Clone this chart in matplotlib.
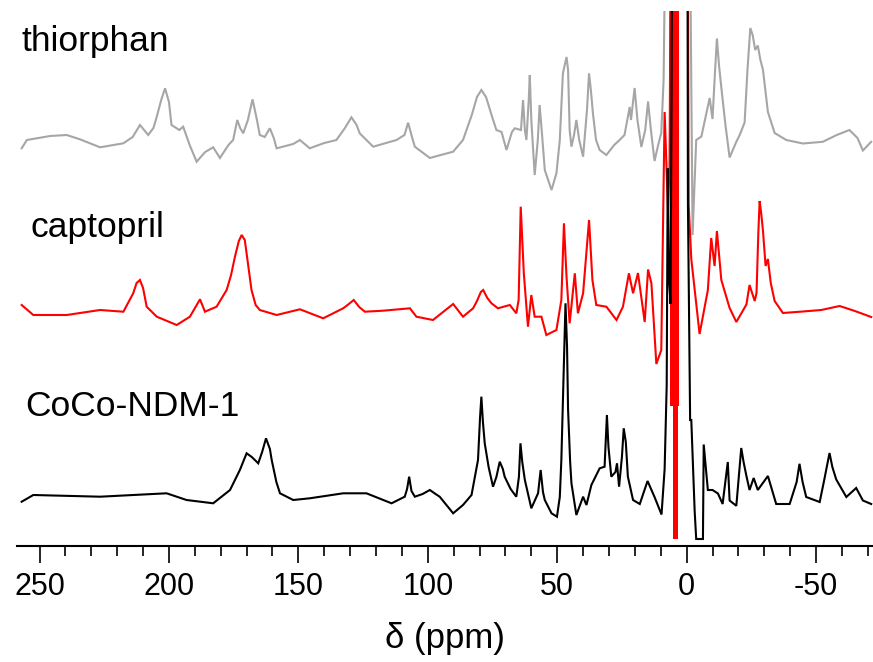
import numpy as np
import matplotlib
matplotlib.use("Agg")
import matplotlib.pyplot as plt

plt.rcParams['font.family'] = ['Liberation Sans', 'DejaVu Sans']

# chemical shift (ppm) and intensity relative to each trace's own baseline
thiorphan_ppm = [256.9, 254.9, 245.9, 239.5, 234.4, 226.6, 217.6, 214.0, 211.2, 208.0,
                 206.0, 204.7, 203.0, 201.5, 200.0, 199.0, 196.0, 194.5, 192.0, 189.3,
                 186.0, 182.9, 180.3, 177.0, 175.2, 173.6, 172.5, 171.3, 169.5, 167.7,
                 166.0, 164.9, 163.0, 161.0, 159.5, 158.4, 152.0, 149.4, 145.6, 140.0,
                 135.3, 132.0, 129.5, 127.5, 126.3, 121.1, 112.1, 109.0, 107.6, 106.0,
                 105.0, 99.2, 95.0, 90.2, 88.0, 86.4, 83.0, 81.0, 79.3, 77.5,
                 75.0, 73.5, 71.5, 69.6, 67.5, 66.4, 64.0, 63.2, 62.5, 61.9,
                 61.0, 60.6, 60.0, 58.7, 57.5, 56.8, 56.0, 54.8, 52.2, 50.3,
                 49.0, 48.0, 47.8, 46.4, 45.8, 45.2, 44.5, 43.5, 42.6, 41.5,
                 40.0, 38.5, 37.7, 37.0, 36.2, 35.0, 33.6, 31.0, 28.0, 25.9,
                 24.0, 22.0, 21.5, 20.1, 19.0, 17.5, 16.0, 14.9, 13.8, 12.4,
                 11.0, 9.8, 8.9, 7.8, -1.0, -2.3, -3.7, -5.7, -8.9, -10.0,
                 -11.0, -11.7, -12.5, -13.4, -15.0, -16.6, -19.2, -20.5, -22.4, -23.5,
                 -24.6, -25.5, -26.5, -27.5, -28.5, -29.5, -31.4, -34.0, -38.5, -44.9,
                 -52.6, -58.0, -62.9, -66.0, -68.1, -71.3]
thiorphan_int = [-8.3, 0, 4, 5, 0.7, -7.3, -3.3, 3, 15, 5,
                 12, 23.3, 40, 51.7, 38, 15, 10, 13.3, -5, -21.7,
                 -12, -7.3, -18, -5, 0, 20, 12, 6.7, 20, 40.7,
                 20, 5, 3, 11.7, 2, -8.3, -4, 0, -8.3, -3,
                 0, 12, 22.7, 15, 6.7, -6.7, 0, 5, 17.3, 2,
                 -6.7, -18, -15, -11.7, -5, 0, 25, 43, 50, 43,
                 22, 10, 8, -10, 8, 11.7, 10, 40, 10, 0,
                 40, 65, 20, -35, 0, 35, 10, -30, -50, -33.3,
                 0, 55, 66.7, 83, 70, 10, -6.7, 5, 20, 0,
                 -16.7, 30, 66.7, 50, 26.7, 0, -10, -15, -5, 0,
                 5, 33, 20, 52, 20, -7, 10, 38.5, 10, -21,
                 -5, 7, 60, 300, 300, -95, 0, 3.5, 42, 21,
                 70, 101.5, 75, 52.5, 15, -17.5, -1.8, 5, 17.5, 70,
                 112, 105, 90, 94.5, 80, 70, 28, 7, 0, -3.5,
                 -1.8, 5, 10, 2, -10.5, -1.8]

captopril_ppm = [256.9, 252.4, 239.5, 226.6, 217.6, 213.8, 212.5, 211.2, 210.0, 208.6,
                 204.7, 197.0, 191.9, 188.0, 186.1, 181.6, 177.7, 176.0, 174.5, 173.0,
                 171.9, 170.7, 169.5, 168.1, 166.5, 164.9, 158.4, 149.4, 140.4, 132.7,
                 131.0, 128.6, 126.5, 124.3, 117.3, 106.9, 104.4, 98.0, 90.2, 86.4,
                 82.5, 81.0, 79.5, 78.6, 77.0, 75.4, 72.9, 68.3, 65.8, 64.9,
                 64.1, 62.9, 61.3, 60.0, 58.7, 56.1, 54.2, 50.3, 48.4, 47.4,
                 46.4, 45.2, 43.2, 42.0, 40.0, 37.7, 36.4, 34.9, 31.0, 27.1,
                 24.6, 22.3, 20.7, 18.8, 16.2, 14.9, 13.6, 11.7, 9.8, 8.5,
                 7.2, 6.6, 6.1, 5.9, 5.7, 5.5, 5.3, 5.1, 4.9, 4.7,
                 4.5, 4.3, 4.1, 3.9, 3.7, 3.5, 3.3, -0.4, -0.8, -1.8,
                 -5.0, -8.2, -9.5, -10.8, -11.7, -13.4, -16.6, -19.2, -23.1, -24.3,
                 -26.3, -27.0, -27.7, -28.2, -28.8, -29.5, -30.5, -31.4, -32.5, -34.0,
                 -37.2, -44.9, -52.0, -59.1, -65.0, -71.3]
captopril_int = [8, -2, -2, 3, 1.3, 19.7, 30, 33, 25, 6.3,
                 -3.7, -12, -3.7, 13.7, 1.3, 6.3, 23, 38, 56.3, 72,
                 78, 73, 50, 23, 8, 3, -2, 3.7, -5.3, 4.7,
                 8, 13, 6, 1.3, 2.3, 4.7, -3.7, -7, 9, -3.7,
                 4.7, 12, 21, 23, 15, 9.7, 4.7, 8, -0.3, 13,
                 106.3, 39.7, -13.7, 18, -3.7, -3.7, -22, -17, 13, 89.7,
                 36.3, -10.3, 39.7, -0.3, 19.7, 93, 33, 8, 6.3, -7,
                 6.3, 39.7, 19.7, 40, -9, 43.5, 29.5, -51, -37, 201,
                 103, 145, 400, -93, 400, -93, 400, -93, 400, -226,
                 400, -226, 400, -226, 400, -93, 400, 400, 108, 54,
                 -21, 23, 75, 47, 82, 33, 5, -9, 8.5, 28,
                 12, 20, 80, 112, 100, 82, 47, 54, 30, 12,
                 0, 1.5, 3, 7, 2, -4]

ndm1_ppm = [256.9, 252.4, 226.6, 200.9, 193.2, 182.9, 176.4, 172.6, 170.0, 168.0,
            165.5, 164.0, 162.5, 161.0, 160.3, 158.5, 157.1, 152.0, 145.6, 132.7,
            123.7, 114.0, 108.9, 108.0, 107.2, 106.3, 105.0, 102.0, 99.2, 97.0,
            95.4, 90.2, 86.4, 83.1, 80.6, 79.8, 79.3, 78.7, 78.0, 76.5,
            74.8, 73.5, 72.2, 71.0, 70.3, 68.0, 65.8, 64.8, 64.2, 63.5,
            62.5, 60.0, 57.4, 56.4, 55.5, 54.8, 52.2, 50.1, 49.0, 48.4,
            47.4, 46.8, 46.2, 45.8, 45.0, 44.5, 42.6, 40.0, 38.7, 36.8,
            33.6, 31.7, 31.2, 30.8, 30.2, 29.1, 27.5, 26.9, 26.1, 25.0,
            24.3, 23.5, 22.7, 20.7, 18.1, 15.1, 12.4, 9.7, 8.5, 7.7,
            7.3, 6.8, 6.2, 5.8, 5.6, -0.3, -0.5, -1.35, -1.8, -3.1,
            -3.7, -6.3, -6.6, -8.2, -10.0, -12.1, -13.9, -15.9, -16.6, -19.2,
            -21.1, -22.0, -23.1, -24.3, -25.9, -27.5, -31.4, -34.6, -39.8, -42.5,
            -43.6, -44.8, -46.2, -51.4, -53.0, -54.3, -55.2, -56.3, -57.8, -61.7,
            -65.5, -68.1, -71.3]
ndm1_int = [-4.7, 2, 0.3, 3.7, -3, -6.3, 7, 27, 43.7, 40,
            33.7, 45, 58.7, 48, 37, 15, 3.7, -3, -1.3, 3.7,
            3.7, -6.3, 0.3, 8, 20.3, 6, 0.3, 3, 7, 3,
            0.3, -16.3, -8, 2, 37, 80, 100.3, 75, 53.7, 30,
            10.3, 20, 35.3, 28, 20.3, 8, 0.3, 20, 53.7, 35,
            17, -11.3, 3.7, 27, 5, -3, -16.3, -19.7, 0, 37,
            137, 193.7, 150, 87, 35, 13.7, -18, 0.3, -8, 12,
            28.7, 30.3, 60, 82, 50, 20.3, 25, 33.7, 10.3, 40,
            68.7, 55, 20.3, -3, -7, 16, 0, -17.5, 28, 112,
            329, 217, 193, 413, 600, 600, 294, 77, 77, -14,
            -42, -42, 52.5, 7, 7, 3.5, -7, 35, -3.5, -8.8,
            49, 35, 21, 7, 19, 7, 21, -7, -7, 15,
            33.2, 15, 0, -5, 15, 32, 44, 30, 17.5, 0,
            9, -3.5, -7]

names = ['thiorphan', 'captopril', 'CoCo-NDM-1']
colors = ['#a6a6a6', '#ff0000', '#000000']
offsets = [406, 233, 49]

fig = plt.figure(figsize=(8.73, 6.62), dpi=100)
ax = fig.add_axes([17 / 873, 116 / 662, 1 - 17 / 873, 535 / 662])

traces = [(thiorphan_ppm, thiorphan_int), (captopril_ppm, captopril_int), (ndm1_ppm, ndm1_int)]
for (ppm, inten), c, off in zip(traces, colors, offsets):
    ax.plot(ppm, np.array(inten) + off, color=c, lw=1.5, solid_joinstyle='miter')

ax.set_xlim(258.7, -72)
ax.set_ylim(0, 535)

for sp in ['left', 'right', 'top']:
    ax.spines[sp].set_visible(False)
ax.spines['bottom'].set_linewidth(1.5)
ax.set_yticks([])
ax.set_xticks(np.arange(-50, 251, 50))
ax.set_xticks(np.arange(-70, 251, 10), minor=True)
ax.set_xticklabels(['-50', '0', '50', '100', '150', '200', '250'])
ax.tick_params(axis='x', which='major', direction='out', length=12, width=1.2,
               labelsize=22, pad=7)
ax.tick_params(axis='x', which='minor', direction='out', length=7, width=1.2)
ax.set_xlabel('δ (ppm)', fontsize=25, labelpad=14)

label_pos = [(22, 42), (30, 227), (25, 407)]
for name, (px, py) in zip(names, label_pos):
    fig.text(px / 873, 1 - py / 662, name, fontsize=25.5, va='center', ha='left')

fig.savefig('out.png', dpi=100)
